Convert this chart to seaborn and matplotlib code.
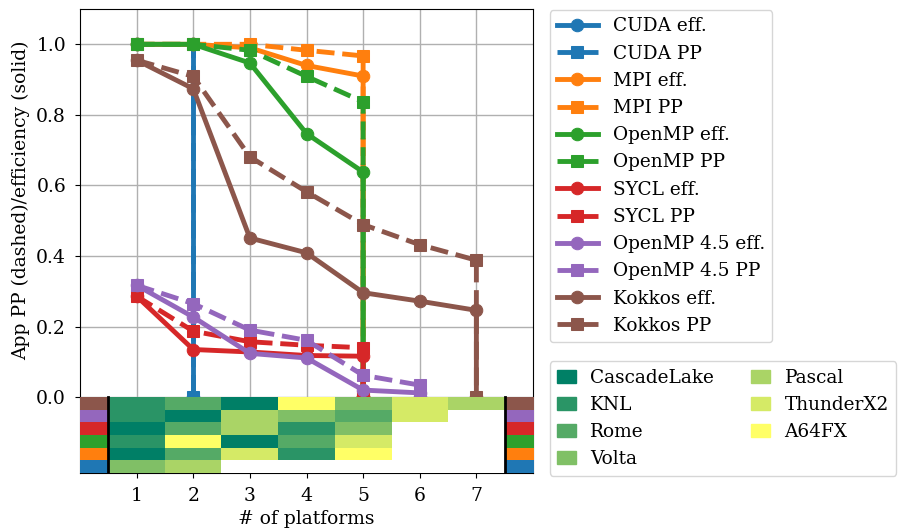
import numpy as np
import matplotlib
matplotlib.use("Agg")
import matplotlib.pyplot as plt
from matplotlib.patches import Patch
import seaborn as sns

# --- data ---
models = ["CUDA", "MPI", "OpenMP", "SYCL", "OpenMP 4.5", "Kokkos"]

eff = {
    "CUDA":       [1.0, 1.0],
    "MPI":        [1.0, 1.0, 0.99, 0.94, 0.91],
    "OpenMP":     [1.0, 1.0, 0.947, 0.747, 0.638],
    "SYCL":       [0.286, 0.135, 0.128, 0.118, 0.116],
    "OpenMP 4.5": [0.317, 0.227, 0.124, 0.111, 0.02, 0.012],
    "Kokkos":     [0.955, 0.874, 0.451, 0.409, 0.296, 0.272, 0.246],
}
pp = {
    "CUDA":       [1.0, 1.0],
    "MPI":        [1.0, 1.0, 1.0, 0.983, 0.967],
    "OpenMP":     [1.0, 1.0, 0.983, 0.909, 0.837],
    "SYCL":       [0.286, 0.187, 0.157, 0.147, 0.14],
    "OpenMP 4.5": [0.317, 0.265, 0.19, 0.161, 0.062, 0.034],
    "Kokkos":     [0.955, 0.909, 0.681, 0.582, 0.489, 0.432, 0.388],
}

platforms = ["CascadeLake", "KNL", "Rome", "Volta", "Pascal", "ThunderX2", "A64FX"]

# platform added at each step, per model (heatmap rows, top to bottom)
order = {
    "Kokkos":     ["KNL", "Rome", "CascadeLake", "A64FX", "Volta", "ThunderX2", "Pascal"],
    "OpenMP 4.5": ["KNL", "CascadeLake", "Pascal", "Volta", "Rome", "ThunderX2"],
    "SYCL":       ["CascadeLake", "Rome", "Pascal", "KNL", "Volta"],
    "OpenMP":     ["KNL", "A64FX", "CascadeLake", "Rome", "ThunderX2"],
    "MPI":        ["CascadeLake", "Rome", "ThunderX2", "KNL", "A64FX"],
    "CUDA":       ["Volta", "Pascal"],
}

plt.rcParams["font.family"] = ["DejaVu Serif"]
plt.rcParams["font.size"] = 13.5
plt.rcParams["xtick.major.pad"] = 6.5
plt.rcParams["ytick.major.pad"] = 6.5

colors = dict(zip(models, sns.color_palette("tab10", 6)))
plat_cols = plt.get_cmap("summer")(np.linspace(0, 1, len(platforms)))

fig = plt.figure(figsize=(8.98, 5.29), dpi=100)
ax = fig.add_axes([80 / 898, 1 - 473 / 529, 453 / 898, 464 / 529])
ax.grid(True, color="#b0b0b0", lw=1.0)
ax.set_axisbelow(True)

for m in models:
    c = colors[m]
    n = len(eff[m])
    xs = list(range(1, n + 1)) + [n]
    sns.lineplot(x=xs, y=eff[m] + [0.0], estimator=None, sort=False, color=c,
                 marker="o", markersize=9, markeredgecolor=c, linewidth=3.5,
                 label=f"{m} eff.", ax=ax, zorder=2.5)
    sns.lineplot(x=xs, y=pp[m] + [0.0], estimator=None, sort=False, color=c,
                 marker="s", markersize=9, markeredgecolor=c, linewidth=3.5,
                 linestyle="--", label=f"{m} PP", ax=ax, zorder=2.5)

# --- platform heatmap below zero ---
ybot = -0.215
rows = ["Kokkos", "OpenMP 4.5", "SYCL", "OpenMP", "MPI", "CUDA"]
img = np.ones((len(rows), 7, 4))
for i, m in enumerate(rows):
    for j, p in enumerate(order[m]):
        img[i, j] = plat_cols[platforms.index(p)]
ax.imshow(img, extent=(0.5, 7.5, ybot, 0), aspect="auto",
          interpolation="nearest", zorder=3)
strip = np.array([[matplotlib.colors.to_rgba(colors[m])] for m in rows])
ax.imshow(strip, extent=(0, 0.5, ybot, 0), aspect="auto",
          interpolation="nearest", zorder=3)
ax.imshow(strip, extent=(7.5, 8, ybot, 0), aspect="auto",
          interpolation="nearest", zorder=3)
ax.plot([0.5, 0.5], [ybot, 0], color="black", lw=2, zorder=4)
ax.plot([7.5, 7.5], [ybot, 0], color="black", lw=2, zorder=4)

ax.set_xlim(0, 8)
ax.set_ylim(ybot, 1.1)
ax.set_xticks(range(1, 8))
ax.set_yticks([0, 0.2, 0.4, 0.6, 0.8, 1.0])
ax.set_xlabel("# of platforms")
ax.set_ylabel("App PP (dashed)/efficiency (solid)")
ax.yaxis.set_label_coords(-0.11, 0.588)

leg1 = ax.legend(loc="upper left", bbox_to_anchor=(1.037, 0.998),
                 borderaxespad=0, handlelength=2.2, fontsize=13.3)
ax.add_artist(leg1)
patches = [Patch(color=plat_cols[k], label=p) for k, p in enumerate(platforms)]
ax.legend(handles=patches, loc="lower left", bbox_to_anchor=(1.037, -0.006),
          borderaxespad=0, ncol=2, handlelength=1.0, fontsize=13.3)

fig.savefig("out.png", dpi=100)
